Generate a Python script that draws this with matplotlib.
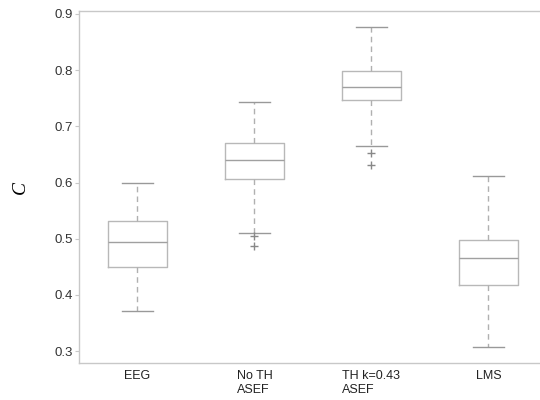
import matplotlib
matplotlib.use("Agg")
import matplotlib.pyplot as plt

# ── Data ───────────────────────────────────────────────
labels   = ["EEG", "No TH\nASEF", "TH k=0.43\nASEF", "LMS"]
whislo   = [0.372, 0.510, 0.665, 0.307]
q1       = [0.450, 0.606, 0.747, 0.417]
medians  = [0.495, 0.640, 0.770, 0.466]
q3       = [0.532, 0.670, 0.799, 0.498]
whishi   = [0.600, 0.744, 0.877, 0.611]
outliers = [[], [0.505, 0.487], [0.653, 0.631], []]

plt.rcParams.update({
    "font.family": "Liberation Sans",
    "font.size": 9,
})

stats = []
for i in range(len(labels)):
    stats.append({
        "label": labels[i],
        "whislo": whislo[i], "q1": q1[i], "med": medians[i],
        "q3": q3[i], "whishi": whishi[i], "fliers": outliers[i],
    })

fig = plt.figure(figsize=(5.4, 4.0), dpi=100)
ax = fig.add_axes([0.146, 0.0925, 0.854, 0.88])

box_col = "#b8b8b8"
ax.bxp(
    stats,
    widths=0.5,
    capwidths=0.26,
    boxprops={"color": box_col, "linewidth": 1.0},
    medianprops={"color": "#a0a0a0", "linewidth": 1.0},
    whiskerprops={"color": "#b0b0b0", "linewidth": 1.0, "linestyle": (0, (4, 3))},
    capprops={"color": "#999999", "linewidth": 1.0},
    flierprops={"marker": "+", "markeredgecolor": "#888888", "markersize": 6,
                "linestyle": "none"},
)

ax.set_xlim(0.5, 4.44)
ax.set_ylim(0.279, 0.905)
ax.set_yticks([0.3, 0.4, 0.5, 0.6, 0.7, 0.8, 0.9])

ax.spines["right"].set_visible(False)
for side in ["left", "top", "bottom"]:
    ax.spines[side].set_color("#c8c8c8")
    ax.spines[side].set_linewidth(1.0)

ax.tick_params(axis="y", direction="out", length=3, color="#c8c8c8",
               labelcolor="#333333", labelsize=9.5, pad=1.5)
ax.tick_params(axis="x", length=0, labelcolor="#222222", labelsize=9, pad=5)
for t in ax.get_xticklabels():
    t.set_multialignment("left")

ax.set_ylabel("C", fontfamily="Liberation Serif", fontstyle="italic",
              fontsize=14, labelpad=18)

fig.savefig("out.png", dpi=100)
plt.close(fig)
